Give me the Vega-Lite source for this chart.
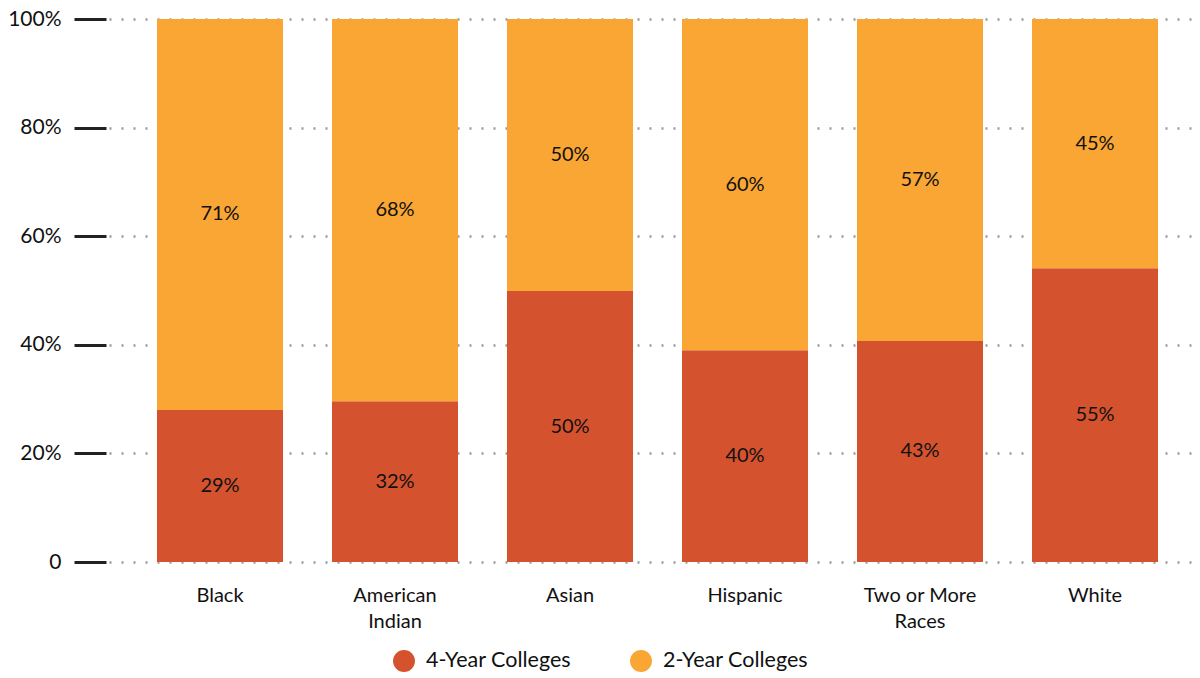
{
  "$schema": "https://vega.github.io/schema/vega-lite/v6.json",
  "width": 1094,
  "height": 543,
  "autosize": {"type": "none"},
  "padding": {"left": 106, "top": 19, "right": 0, "bottom": 116},
  "background": "white",
  "config": {
    "view": {"stroke": null},
    "font": "Lato",
    "text": {"font": "Lato"}
  },
  "data": {
    "values": [
      {"group": "Black", "type": "4-Year Colleges", "share": 0.28, "label": "29%"},
      {"group": "Black", "type": "2-Year Colleges", "share": 0.72, "label": "71%"},
      {"group": "American Indian", "type": "4-Year Colleges", "share": 0.296, "label": "32%"},
      {"group": "American Indian", "type": "2-Year Colleges", "share": 0.704, "label": "68%"},
      {"group": "Asian", "type": "4-Year Colleges", "share": 0.499, "label": "50%"},
      {"group": "Asian", "type": "2-Year Colleges", "share": 0.501, "label": "50%"},
      {"group": "Hispanic", "type": "4-Year Colleges", "share": 0.39, "label": "40%"},
      {"group": "Hispanic", "type": "2-Year Colleges", "share": 0.61, "label": "60%"},
      {"group": "Two or More Races", "type": "4-Year Colleges", "share": 0.407, "label": "43%"},
      {"group": "Two or More Races", "type": "2-Year Colleges", "share": 0.593, "label": "57%"},
      {"group": "White", "type": "4-Year Colleges", "share": 0.541, "label": "55%"},
      {"group": "White", "type": "2-Year Colleges", "share": 0.459, "label": "45%"}
    ]
  },
  "transform": [
    {"stack": "share", "groupby": ["group"], "as": ["y0", "y1"], "sort": [{"field": "type", "order": "descending"}]},
    {"calculate": "(datum.y0 + datum.y1) / 2", "as": "ymid"}
  ],
  "encoding": {
    "x": {
      "field": "group",
      "type": "nominal",
      "sort": ["Black", "American Indian", "Asian", "Hispanic", "Two or More Races", "White"],
      "scale": {"paddingInner": 0.28, "paddingOuter": 0.2657},
      "axis": {
        "title": null,
        "domain": false,
        "ticks": false,
        "grid": false,
        "labelAngle": 0,
        "labelOffset": 4.5,
        "labelFont": "Lato",
        "labelFontSize": 20,
        "labelColor": "#111111",
        "labelPadding": 23,
        "labelBaseline": "top",
        "labelLineHeight": 26,
        "labelExpr": "datum.label == 'American Indian' ? ['American', 'Indian'] : datum.label == 'Two or More Races' ? ['Two or More', 'Races'] : datum.label"
      }
    }
  },
  "layer": [
    {
      "mark": {"type": "bar", "xOffset": 4.5},
      "encoding": {
        "y": {
          "field": "y0",
          "type": "quantitative",
          "scale": {"domain": [0, 1], "nice": false},
          "axis": {
            "title": null,
            "values": [0, 0.2, 0.4, 0.6, 0.8, 1],
            "labelExpr": "datum.value == 0 ? '0' : format(datum.value, '.0%')",
            "domain": false,
            "tickColor": "#222222",
            "tickWidth": 3,
            "tickSize": 32,
            "labelFont": "Lato",
            "labelFontSize": 21,
            "labelColor": "#111111",
            "labelPadding": 13,
            "grid": true,
            "gridColor": "#999999",
            "gridWidth": 2.5,
            "gridDash": [2, 10],
            "gridDashOffset": -3
          }
        },
        "y2": {"field": "y1"},
        "color": {
          "field": "type",
          "type": "nominal",
          "scale": {"domain": ["4-Year Colleges", "2-Year Colleges"], "range": ["#D4532E", "#F9A635"]},
          "legend": {
            "title": null,
            "orient": "none",
            "direction": "horizontal",
            "legendX": 287,
            "legendY": 631,
            "symbolType": "circle",
            "symbolSize": 480,
            "symbolStrokeWidth": 0,
            "labelFont": "Lato",
            "labelFontSize": 21.5,
            "labelColor": "#111111",
            "labelOffset": 11,
            "columnPadding": 58
          }
        }
      }
    },
    {
      "mark": {"type": "text", "xOffset": 4.5, "font": "Lato", "fontSize": 20, "color": "#111111", "baseline": "middle", "align": "center"},
      "encoding": {
        "y": {"field": "ymid", "type": "quantitative"},
        "text": {"field": "label", "type": "nominal"}
      }
    }
  ]
}
